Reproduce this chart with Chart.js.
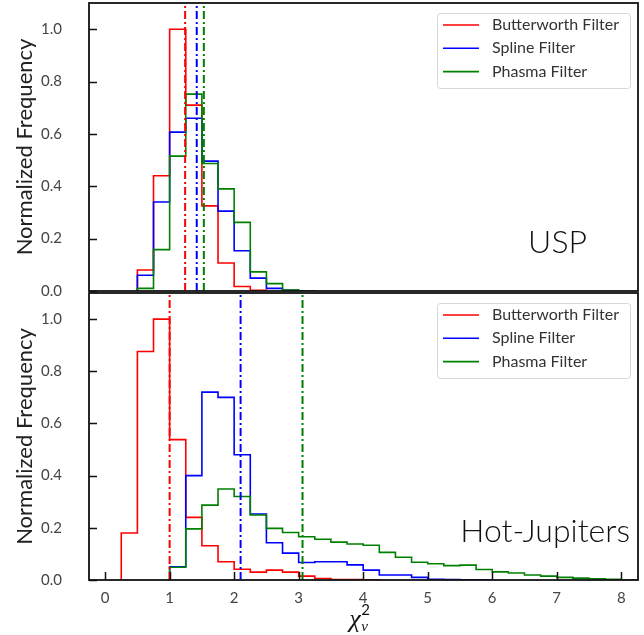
<!DOCTYPE html>
<html>
<head>
<meta charset="utf-8">
<script src="https://cdn.jsdelivr.net/npm/chart.js@4.4.1/dist/chart.umd.min.js"></script>
<style>
  html, body { margin: 0; padding: 0; background: #fff; }
  #wrap { position: relative; width: 644px; height: 635px; overflow: hidden; }
  canvas { position: absolute; left: 0; }
</style>
</head>
<body>
<div id="wrap">
  <canvas id="chartUSP" width="644" height="310" style="top:0"></canvas>
  <canvas id="chartHJ" width="644" height="345" style="top:290px"></canvas>
</div>
<script>
// histogram bins (width 0.25)
const binWidth = 0.25;
const filterNames = ["Butterworth Filter", "Spline Filter", "Phasma Filter"];
const filterColors = ["#ff0000", "#0000ff", "#008000"];

// USP panel
const uspStart = [0.5, 0.5, 0.5];
const uspButterworth = [0.08, 0.44, 1.0, 0.71, 0.325, 0.107, 0.017, 0.003];
const uspSpline = [0.06, 0.34, 0.607, 0.66, 0.496, 0.305, 0.154, 0.049, 0.01, 0.003];
const uspPhasma = [0.01, 0.158, 0.515, 0.752, 0.487, 0.39, 0.262, 0.073, 0.028, 0.004, 0.001];
const uspMedians = [1.24, 1.42, 1.53];

// Hot-Jupiters panel
const hjStart = [0.25, 1.0, 1.0];
const hjButterworth = [0.18, 0.876, 1.0, 0.538, 0.24, 0.131, 0.07, 0.041, 0.03, 0.038, 0.03, 0.015, 0.006, 0.002, 0.002, 0.001];
const hjSpline = [0.051, 0.4, 0.72, 0.70, 0.48, 0.253, 0.143, 0.103, 0.067, 0.07, 0.07, 0.058, 0.038, 0.019, 0.019, 0.01, 0.003, 0.002, 0.001, 0.001];
const hjPhasma = [0.049, 0.196, 0.287, 0.349, 0.32, 0.249, 0.198, 0.182, 0.166, 0.156, 0.145, 0.138, 0.133, 0.106, 0.087, 0.068, 0.062, 0.055, 0.057, 0.04, 0.031, 0.027, 0.019, 0.015, 0.01, 0.007, 0.005, 0.003, 0.001];
const hjMedians = [1.0, 2.1, 3.06];

const xTicks = [0, 1, 2, 3, 4, 5, 6, 7, 8];
const yTicks = [0.0, 0.2, 0.4, 0.6, 0.8, 1.0];

const FONT = "Lato, 'DejaVu Sans', sans-serif";

// step outline like matplotlib histtype='step'
function stepPoints(start, values) {
  const pts = [{ x: start, y: 0 }];
  values.forEach((v, i) => pts.push({ x: start + i * binWidth, y: v }));
  const end = start + values.length * binWidth;
  pts.push({ x: end, y: values[values.length - 1] });
  pts.push({ x: end, y: 0 });
  return pts;
}

const panelPlugin = {
  id: 'panel',
  afterDraw(chart, args, opts) {
    const ctx = chart.ctx;
    const a = chart.chartArea;
    const ys = chart.scales.y, xs = chart.scales.x;
    ctx.save();

    // inside ticks
    ctx.strokeStyle = '#111';
    ctx.lineWidth = 1.5;
    ctx.beginPath();
    yTicks.forEach(v => {
      const py = Math.round(ys.getPixelForValue(v)) + 0.5;
      ctx.moveTo(a.left, py); ctx.lineTo(a.left + 8, py);
    });
    if (opts.xLabels) {
      xTicks.forEach(v => {
        const px = Math.round(xs.getPixelForValue(v)) + 0.5;
        ctx.moveTo(px, a.bottom); ctx.lineTo(px, a.bottom - 8);
      });
    }
    ctx.stroke();

    // frame
    ctx.lineWidth = 1.8;
    ctx.strokeRect(a.left, a.top, a.right - a.left, a.bottom - a.top);

    // legend
    const bx = a.right - 201, by = a.top + 10, bw = 193, bh = 75;
    ctx.fillStyle = 'rgba(255,255,255,0.8)';
    ctx.strokeStyle = '#d6d6d6';
    ctx.lineWidth = 1;
    ctx.beginPath();
    ctx.roundRect(bx + 0.5, by + 0.5, bw, bh, 3);
    ctx.fill();
    ctx.stroke();
    ctx.font = "16px " + FONT;
    ctx.textBaseline = 'middle';
    ctx.textAlign = 'left';
    filterNames.forEach((name, i) => {
      const ly = by + 12 + i * 23.3;
      ctx.strokeStyle = filterColors[i];
      ctx.lineWidth = 1.6;
      ctx.beginPath();
      ctx.moveTo(bx + 6, ly); ctx.lineTo(bx + 42, ly);
      ctx.stroke();
      ctx.fillStyle = '#333';
      ctx.fillText(name, bx + 55, ly);
    });

    // panel name
    ctx.fillStyle = '#111';
    ctx.font = "300 32px " + FONT;
    ctx.textAlign = 'right';
    ctx.textBaseline = 'alphabetic';
    ctx.fillText(opts.name, a.right - opts.nameRight, a.bottom - 38);

    // y label
    ctx.save();
    ctx.translate(25, (a.top + a.bottom) / 2);
    ctx.rotate(-Math.PI / 2);
    ctx.textAlign = 'center';
    ctx.textBaseline = 'middle';
    ctx.font = "22px " + FONT;
    ctx.fillStyle = '#222';
    ctx.fillText('Normalized Frequency', 0, 0);
    ctx.restore();

    // x label chi^2_nu
    if (opts.xLabels) {
      const cx = xs.getPixelForValue(3.8);
      const base = a.bottom + 47;
      ctx.fillStyle = '#111';
      ctx.textAlign = 'left';
      ctx.font = "italic 26px 'Liberation Serif', serif";
      ctx.fillText('χ', cx - 1, base);
      ctx.font = "15px " + FONT;
      ctx.fillText('2', cx + 11, base - 12);
      ctx.font = "italic 15px 'Liberation Serif', serif";
      ctx.fillText('ν', cx + 11, base + 4);
    }
    ctx.restore();
  }
};

function makePanel(id, starts, series, medians, name, nameRight, xLabels, xHeight) {
  const datasets = [];
  medians.forEach((m, i) => {
    datasets.push({
      data: [{ x: m, y: 0 }, { x: m, y: 1.1 }],
      borderColor: filterColors[i],
      borderWidth: 2,
      borderDash: [8, 3, 2, 3],
      pointRadius: 0,
      order: 0
    });
  });
  series.forEach((vals, i) => {
    datasets.push({
      label: filterNames[i],
      data: stepPoints(starts[i], vals),
      borderColor: filterColors[i],
      borderWidth: 1.6,
      stepped: 'before',
      pointRadius: 0,
      fill: false,
      order: 3 - i
    });
  });

  return new Chart(document.getElementById(id), {
    type: 'line',
    data: { datasets: datasets },
    options: {
      responsive: false,
      animation: false,
      devicePixelRatio: 1,
      layout: { autoPadding: false, padding: { left: 0, right: 6, top: 3, bottom: 0 } },
      plugins: {
        legend: { display: false },
        tooltip: { enabled: false },
        panel: { name: name, nameRight: nameRight, xLabels: xLabels }
      },
      scales: {
        x: {
          type: 'linear',
          min: -0.25,
          max: 8.26,
          grid: { display: false, drawTicks: false },
          border: { display: false },
          ticks: {
            display: xLabels,
            stepSize: 1,
            includeBounds: false,
            padding: 9,
            color: '#444',
            font: { family: FONT, size: 15 },
            callback: v => Number.isInteger(v) ? String(v) : ''
          },
          afterFit: s => { s.height = xHeight; s.paddingLeft = 0; s.paddingRight = 0; }
        },
        y: {
          min: 0,
          max: 1.1,
          grid: { display: false, drawTicks: false },
          border: { display: false },
          ticks: {
            stepSize: 0.2,
            includeBounds: false,
            padding: 27,
            color: '#444',
            font: { family: FONT, size: 15 },
            callback: v => v.toFixed(1)
          },
          afterFit: s => { s.width = 89; s.paddingTop = 0; s.paddingBottom = 0; }
        }
      }
    },
    plugins: [panelPlugin]
  });
}

makePanel('chartUSP', uspStart, [uspButterworth, uspSpline, uspPhasma], uspMedians, 'USP', 51, false, 19);
makePanel('chartHJ', hjStart, [hjButterworth, hjSpline, hjPhasma], hjMedians, 'Hot-Jupiters', 8, true, 55);
</script>
</body>
</html>
